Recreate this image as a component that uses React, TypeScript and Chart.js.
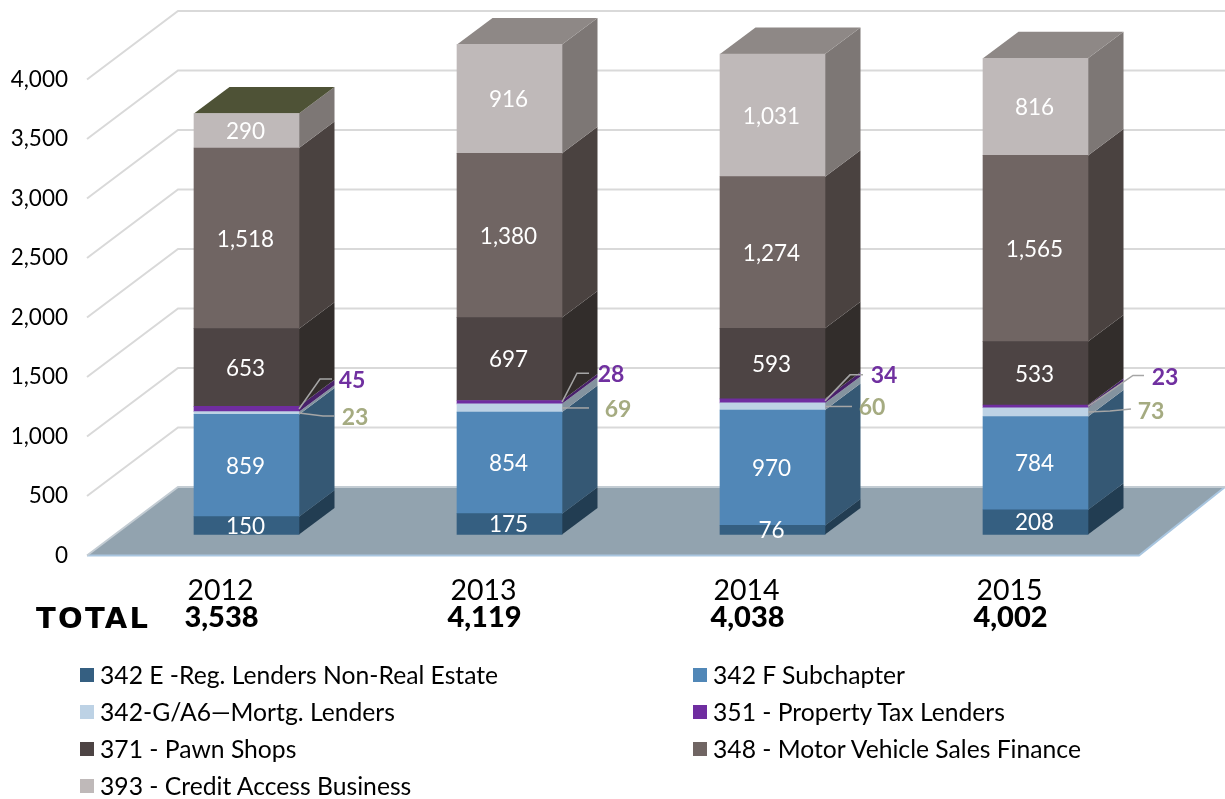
import React, { useEffect, useRef } from "react";
import { Chart, registerables } from "chart.js";

Chart.register(...registerables);

const years = ["2012", "2013", "2014", "2015"];
const totals = ["3,538", "4,119", "4,038", "4,002"];
const tickValues = [0, 500, 1000, 1500, 2000, 2500, 3000, 3500, 4000];
const s342E = [150, 175, 76, 208];
const s342F = [859, 854, 970, 784];
const s342G = [23, 69, 60, 73];
const s351 = [45, 28, 34, 23];
const s371 = [653, 697, 593, 533];
const s348 = [1518, 1380, 1274, 1565];
const s393 = [290, 916, 1031, 816];

const names = [
  "342 E -Reg. Lenders Non-Real Estate",
  "342 F Subchapter",
  "342-G/A6\u2014Mortg. Lenders",
  "351 - Property Tax Lenders",
  "371 - Pawn Shops",
  "348 - Motor Vehicle Sales Finance",
  "393 - Credit Access Business",
];
const values = [s342E, s342F, s342G, s351, s371, s348, s393];
const frontColors = ["#355f81", "#5187b7", "#bdd2e5", "#6f2da0", "#4d4444", "#706563", "#bfb9b9"];
const sideColors = ["#223d52", "#355874", "#84939f", "#48206a", "#322d2b", "#4a4240", "#7d7775"];
const topColors = ["#4e5236", "#8e8886", "#8e8886", "#8e8886"];

const LABEL_FONT = "22.5px Lato";
const OUTER_FONT = "bold 23px Lato";
const DEPTH = { x: 35.5, y: -26.5 };
const ROOM = { front: -28, back: 63, dy: -68.5 };
// outside-label leader routing relative to the bar's right edge and segment centre: [elbowX, elbowY, endX, endY, labelX, labelY]
const leader351 = [
  [21, -30, 33, -30, 53, -29],
  [15, -29, 27, -29, 49, -29],
  [25, -26, 38, -26, 59, -26],
  [45, -31, 56, -31, 77, -30],
];
const leader342G = [
  [24, 3, 35, 3, 56, 4],
  [14, 0, 27, 0, 56, 1],
  [14, 0, 27, 0, 47, 0],
  [22, -1, 43, -3, 63, -2],
];
const OUTER_351 = "#7030a0";
const OUTER_342G = "#a5ab81";

const poly = (ctx: CanvasRenderingContext2D, pts: number[][], fill: string) => {
  ctx.beginPath();
  pts.forEach((p, i) => (i ? ctx.lineTo(p[0], p[1]) : ctx.moveTo(p[0], p[1])));
  ctx.closePath();
  ctx.fillStyle = fill;
  ctx.fill();
};

const bar3d = {
  id: "bar3d",
  beforeDatasetsDraw(chart: any) {
    const { ctx, chartArea: a, scales } = chart;
    const yT = scales.yTicks;
    const floorY = yT.getPixelForValue(0);
    const L = a.left + ROOM.front;
    const B = a.left + ROOM.back;
    ctx.save();
    ctx.strokeStyle = "#d9d9d9";
    ctx.lineWidth = 2;
    yT.ticks.forEach((t: any) => {
      if (t.value === 0) return;
      const y = yT.getPixelForValue(t.value);
      ctx.beginPath();
      ctx.moveTo(L, y);
      ctx.lineTo(B, y + ROOM.dy);
      ctx.lineTo(chart.width, y + ROOM.dy);
      ctx.stroke();
    });
    poly(ctx, [[L, floorY], [B, floorY + ROOM.dy], [chart.width, floorY + ROOM.dy], [a.right + ROOM.front, floorY]], "#92a3af");
    ctx.strokeStyle = "#a9c6e0";
    ctx.lineWidth = 2;
    ctx.beginPath();
    ctx.moveTo(L, floorY);
    ctx.lineTo(a.right + ROOM.front, floorY);
    ctx.lineTo(chart.width, floorY + ROOM.dy);
    ctx.stroke();
    ctx.strokeStyle = "#c3ccd3";
    ctx.beginPath();
    ctx.moveTo(L, floorY);
    ctx.lineTo(B, floorY + ROOM.dy);
    ctx.lineTo(chart.width, floorY + ROOM.dy);
    ctx.stroke();

    const n = chart.data.datasets.length;
    chart.data.datasets.forEach((_: any, d: number) => {
      chart.getDatasetMeta(d).data.forEach((bar: any, i: number) => {
        const r = bar.x + bar.width / 2;
        const l = bar.x - bar.width / 2;
        poly(ctx, [[r, bar.y], [r + DEPTH.x, bar.y + DEPTH.y], [r + DEPTH.x, bar.base + DEPTH.y], [r, bar.base]], sideColors[d]);
        if (d === n - 1) {
          poly(ctx, [[l, bar.y], [l + DEPTH.x, bar.y + DEPTH.y], [r + DEPTH.x, bar.y + DEPTH.y], [r, bar.y]], topColors[i]);
        }
      });
    });
    ctx.restore();
  },
  afterDatasetsDraw(chart: any) {
    const { ctx } = chart;
    ctx.save();
    ctx.textAlign = "center";
    ctx.textBaseline = "middle";
    chart.data.datasets.forEach((ds: any, d: number) => {
      chart.getDatasetMeta(d).data.forEach((bar: any, i: number) => {
        const mid = (bar.y + bar.base) / 2;
        const text = Number(ds.data[i]).toLocaleString("en-US");
        if (d === 2 || d === 3) {
          const r = bar.x + bar.width / 2;
          const [ex, ey, fx, fy, lx, ly] = (d === 3 ? leader351 : leader342G)[i];
          ctx.strokeStyle = "#a6a6a6";
          ctx.lineWidth = 1.5;
          ctx.beginPath();
          ctx.moveTo(r, mid);
          ctx.lineTo(r + ex, mid + ey);
          ctx.lineTo(r + fx, mid + fy);
          ctx.stroke();
          ctx.font = OUTER_FONT;
          ctx.fillStyle = d === 3 ? OUTER_351 : OUTER_342G;
          ctx.fillText(text, r + lx, mid + ly + 1);
        } else {
          ctx.font = LABEL_FONT;
          ctx.fillStyle = "#ffffff";
          ctx.fillText(text, bar.x - 1, mid + 1);
        }
      });
    });
    ctx.font = "bold 29px 'DejaVu Sans'";
    ctx.fillStyle = "#000000";
    ctx.textAlign = "left";
    (ctx as any).letterSpacing = "2.3px";
    ctx.fillText("TOTAL", 36, chart.scales.xTotal.top + 20);
    ctx.restore();
  },
};

export default function App() {
  const ref = useRef<HTMLCanvasElement>(null);
  useEffect(() => {
    document.body.style.margin = "0";
    const chart = new Chart(ref.current as HTMLCanvasElement, {
      type: "bar",
      data: {
        labels: years,
        datasets: names.map((label, i) => ({
          label,
          data: values[i],
          backgroundColor: frontColors[i],
          barThickness: 105,
          borderWidth: 0,
        })),
      },
      options: {
        animation: false,
        responsive: false,
        layout: { autoPadding: false, padding: { top: 11, right: 58, bottom: 163.5, left: 0 } },
        plugins: { legend: false, title: false, subtitle: false, tooltip: false },
        scales: {
          x: {
            stacked: true,
            position: "bottom",
            grid: { display: false, drawTicks: false },
            border: { display: false },
            ticks: { font: { family: "Lato", size: 28.5 }, color: "#000", labelOffset: -26, padding: 18, maxRotation: 0 },
            afterFit: (s: any) => { s.height = 45; },
          },
          xTotal: {
            type: "category",
            labels: totals,
            position: "bottom",
            grid: { display: false, drawTicks: false },
            border: { display: false },
            ticks: { font: { family: "Lato", size: 29, weight: "900" }, color: "#000", labelOffset: -25, padding: 0, maxRotation: 0 },
            afterFit: (s: any) => { s.height = 35; },
          },
          y: {
            stacked: true,
            display: false,
            min: -176.5,
            max: 4399.5,
          },
          yTicks: {
            type: "linear",
            position: "left",
            min: 0,
            max: 4576,
            grid: { display: false, drawTicks: true, tickLength: 47 },
            border: { display: false },
            ticks: {
              padding: 0,
              font: { family: "Lato", size: 22.5, lineHeight: 0.9 },
              color: "#000",
              callback: (v: any) => Number(v).toLocaleString("en-US"),
            },
            afterBuildTicks: (s: any) => { s.ticks = tickValues.map((value) => ({ value })); },
            afterFit: (s: any) => { s.width = 115; },
          },
        },
      } as any,
      plugins: [bar3d as any],
    });
    return () => chart.destroy();
  }, []);

  return (
    <div style={{ position: "absolute", left: 0, top: 0, width: 1225, height: 799, overflow: "hidden", background: "#fff" }}>
      <canvas ref={ref} width={1225} height={799} style={{ display: "block" }} />
      {names.map((n, i) => {
        const col = i % 2;
        const row = Math.floor(i / 2);
        return (
          <div
            key={n}
            style={{
              position: "absolute",
              left: col ? 693 : 80,
              top: 656 + row * 37,
              height: 37,
              display: "flex",
              alignItems: "center",
              font: "24.7px Lato",
              color: "#000",
              whiteSpace: "nowrap",
            }}
          >
            <span style={{ width: 14, height: 14, background: frontColors[i], marginRight: 6, display: "inline-block" }} />
            {n}
          </div>
        );
      })}
    </div>
  );
}
